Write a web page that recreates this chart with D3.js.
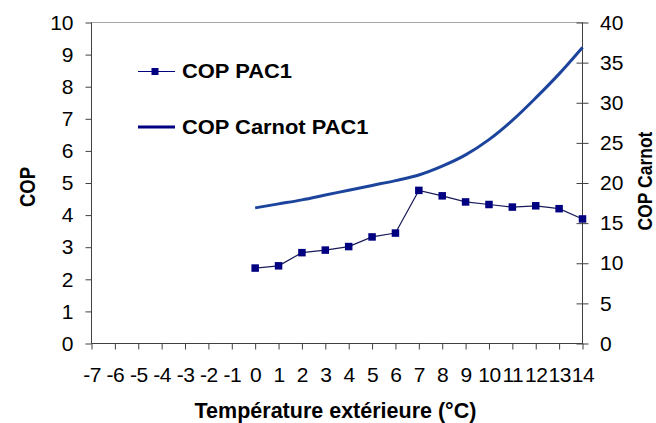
<!DOCTYPE html>
<html>
<head>
<meta charset="utf-8">
<script src="https://cdn.jsdelivr.net/npm/d3@7"></script>
<style>
  html, body { margin: 0; padding: 0; background: #fff; }
  svg { display: block; font-family: "Liberation Sans", Arial, sans-serif; }
</style>
</head>
<body>
<svg id="chart" width="656" height="423"></svg>
<script>
// Outdoor temperature categories (°C)
const temperatures = [-7, -6, -5, -4, -3, -2, -1, 0, 1, 2, 3, 4, 5, 6, 7, 8, 9, 10, 11, 12, 13, 14];
// Measured heat pump COP (left axis), available from 0 °C upward
const copTemps = [0, 1, 2, 3, 4, 5, 6, 7, 8, 9, 10, 11, 12, 13, 14];
const copPac1 = [2.35, 2.42, 2.83, 2.91, 3.02, 3.32, 3.44, 4.77, 4.60, 4.41, 4.33, 4.25, 4.29, 4.20, 3.88];
// Carnot COP (right axis)
const copCarnot = [16.9, 17.4, 17.9, 18.5, 19.1, 19.7, 20.3, 21.0, 22.1, 23.5, 25.4, 27.8, 30.6, 33.6, 36.9];
// Axis ticks
const leftTicks = [0, 1, 2, 3, 4, 5, 6, 7, 8, 9, 10];
const rightTicks = [0, 5, 10, 15, 20, 25, 30, 35, 40];
const seriesNames = ["COP PAC1", "COP Carnot PAC1"];

const svg = d3.select("#chart");
const plotLeft = 91.5, plotRight = 582.5, plotTop = 22.5, plotBottom = 343.5;

const x = d3.scalePoint().domain(temperatures).range([plotLeft, plotRight]);
const yL = d3.scaleLinear().domain([0, 10]).range([plotBottom, plotTop]);
const yR = d3.scaleLinear().domain([0, 40]).range([plotBottom, plotTop]);

const axisColor = "#404040";
const navy = "#000080";
const carnotColor = "#1c449c";

// Plot area frame
svg.append("rect")
  .attr("x", plotLeft).attr("y", plotTop)
  .attr("width", plotRight - plotLeft).attr("height", plotBottom - plotTop)
  .attr("fill", "none").attr("stroke", "#a6a6a6").attr("stroke-width", 1);

// Left axis
const gL = svg.append("g").attr("transform", `translate(${plotLeft},0)`)
  .call(d3.axisLeft(yL).tickValues(leftTicks).tickSize(6).tickPadding(12));
// Right axis (cross ticks)
const gR = svg.append("g").attr("transform", `translate(${plotRight},0)`)
  .call(d3.axisRight(yR).tickValues(rightTicks).tickSize(6).tickPadding(11.5));
gR.selectAll(".tick line").attr("x1", -6);
// Bottom axis
const gB = svg.append("g").attr("transform", `translate(0,${plotBottom})`)
  .call(d3.axisBottom(x).tickSize(6).tickPadding(18));

[gL, gR, gB].forEach(g => {
  g.select(".domain").attr("stroke", axisColor);
  g.selectAll(".tick line").attr("stroke", axisColor);
  g.selectAll(".tick text")
    .attr("fill", "#000")
    .style("font-size", "21px")
    .style("font-family", "'Liberation Sans', Arial, sans-serif");
});
gL.select(".domain").attr("d", `M0,${plotTop}V${plotBottom}`);
gR.select(".domain").attr("d", `M0,${plotTop}V${plotBottom}`);
gB.select(".domain").attr("d", `M${plotLeft},0H${plotRight}`);
gB.selectAll(".tick text").attr("letter-spacing", "-0.5px");

// Carnot curve
const carnotLine = d3.line()
  .x((d, i) => x(copTemps[i]))
  .y(d => yR(d))
  .curve(d3.curveMonotoneX);
svg.append("path")
  .datum(copCarnot)
  .attr("d", carnotLine)
  .attr("fill", "none")
  .attr("stroke", carnotColor)
  .attr("stroke-width", 3);

// Measured COP line with square markers
const copLine = d3.line()
  .x((d, i) => x(copTemps[i]))
  .y(d => yL(d));
svg.append("path")
  .datum(copPac1)
  .attr("d", copLine)
  .attr("fill", "none")
  .attr("stroke", "#1a1a5a")
  .attr("stroke-width", 1.2);
const ms = 7.5;
svg.selectAll("rect.marker")
  .data(copPac1)
  .join("rect")
  .attr("class", "marker")
  .attr("x", (d, i) => x(copTemps[i]) - ms / 2)
  .attr("y", d => yL(d) - ms / 2)
  .attr("width", ms).attr("height", ms)
  .attr("fill", navy);

// Axis titles (vertical titles are drawn slightly widened)
svg.append("text")
  .attr("transform", `translate(34.5,187) scale(1.2,1) rotate(-90)`)
  .attr("text-anchor", "middle")
  .style("font-size", "18.5px").style("font-weight", "bold")
  .text("COP");
svg.append("text")
  .attr("transform", `translate(651.5,181) scale(1.2,1) rotate(-90)`)
  .attr("text-anchor", "middle")
  .style("font-size", "17.5px").style("font-weight", "bold")
  .text("COP Carnot");
svg.append("text")
  .attr("x", 335.5).attr("y", 418)
  .attr("text-anchor", "middle")
  .style("font-size", "21.5px").style("font-weight", "bold")
  .text("Température extérieure (°C)");

// Legend
const legend = svg.append("g");
const legendRows = [
  { name: seriesNames[0], y: 71.5, base: 77.5, marker: true, len: 110 },
  { name: seriesNames[1], y: 127, base: 134.3, marker: false, len: 186.5 }
];
legendRows.forEach(r => {
  legend.append("line")
    .attr("x1", 138).attr("x2", 175).attr("y1", r.y).attr("y2", r.y)
    .attr("stroke", navy)
    .attr("stroke-width", r.marker ? 1.2 : 3);
  if (r.marker) {
    legend.append("rect")
      .attr("x", 155 - 3.5).attr("y", r.y - 3.5)
      .attr("width", 7).attr("height", 7).attr("fill", navy);
  }
  legend.append("text")
    .attr("x", 182).attr("y", r.base)
    .attr("textLength", r.len).attr("lengthAdjust", "spacingAndGlyphs")
    .style("font-size", "20px").style("font-weight", "bold")
    .text(r.name);
});
</script>
</body>
</html>
